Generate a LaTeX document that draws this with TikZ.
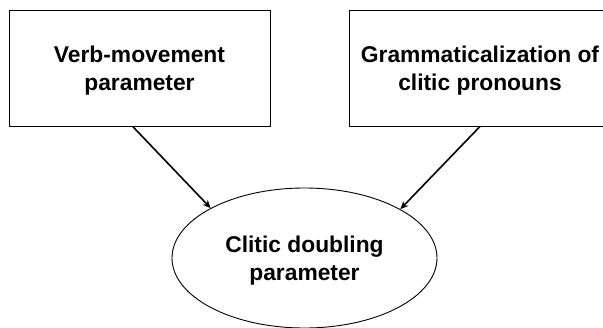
\documentclass[tikz,border=0pt]{standalone}
\usepackage{fontspec}
\setmainfont{Liberation Sans}
\usetikzlibrary{shapes.geometric,arrows.meta}
\begin{document}
\begin{tikzpicture}[x=1pt,y=-1pt,
  lbl/.style={font=\bfseries\fontsize{22.8pt}{27.5pt}\selectfont, align=center, inner sep=0pt},
  boxnode/.style={lbl, draw, line width=0.9pt, rectangle, minimum width=261pt, minimum height=116pt},
  ellnode/.style={lbl, draw, line width=0.9pt, ellipse, minimum width=265pt, minimum height=140pt},
  conn/.style={line width=1.6pt, -{Stealth[length=8pt,width=7pt]}}]
\useasboundingbox (0,0) rectangle (603,327);
\clip (0,0) rectangle (603,327);
\node[boxnode] (L) at (139.5,68) {\rule{0pt}{22pt}Verb-movement\\parameter};
\node[boxnode] (R) at (480,68) {\rule{0pt}{22pt}Grammaticalization of\\clitic pronouns};
\node[ellnode] (E) at (304.5,258) {\rule{0pt}{22pt}Clitic doubling\\parameter};
\draw[conn] ([xshift=-6.8pt]L.south) -- (E.152.6);
\draw[conn] (R.south) -- (E.27.4);
\end{tikzpicture}
\end{document}
